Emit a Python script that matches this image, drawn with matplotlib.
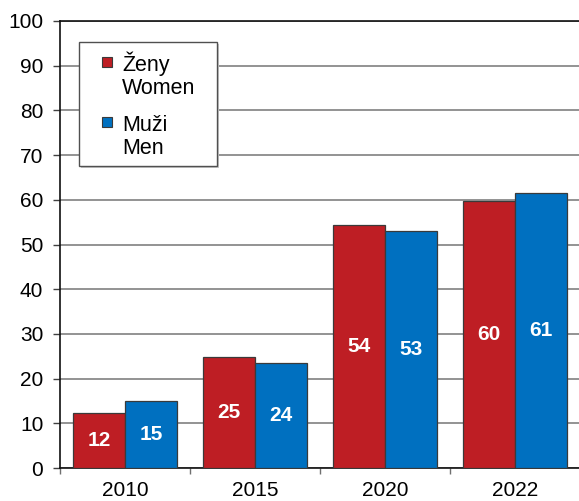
import matplotlib
matplotlib.use("Agg")
import matplotlib.pyplot as plt
from matplotlib.patches import Rectangle
import numpy as np

plt.rcParams['font.family'] = ['Liberation Sans', 'DejaVu Sans']

years = ["2010", "2015", "2020", "2022"]
women = [12.2, 24.8, 54.4, 59.8]
men = [14.9, 23.5, 53.1, 61.5]
women_labels = ["12", "25", "54", "60"]
men_labels = ["15", "24", "53", "61"]
yticks = [0, 10, 20, 30, 40, 50, 60, 70, 80, 90, 100]
legend_lines = [("Ženy", "Women"), ("Muži", "Men")]

W, H = 579, 501
fig = plt.figure(figsize=(W / 100, H / 100), dpi=100)
ax = fig.add_axes([60 / W, (H - 468) / H, 520 / W, 447 / H])

red = "#BE1E24"
blue = "#0070C0"
edge = "#3a3a3a"
x = np.arange(len(years))
bw = 0.4
b1 = ax.bar(x - bw / 2, women, bw, color=red, edgecolor=edge, linewidth=0.9, zorder=3)
b2 = ax.bar(x + bw / 2, men, bw, color=blue, edgecolor=edge, linewidth=0.9, zorder=3)

for bars, labs in ((b1, women_labels), (b2, men_labels)):
    for r, t in zip(bars, labs):
        ax.text(r.get_x() + r.get_width() / 2, r.get_height() / 2, t,
                ha="center", va="center", color="white", fontsize=15,
                fontweight="bold", zorder=4)

ax.set_xlim(-0.5, len(years) - 0.5)
ax.set_ylim(0, 100)
ax.set_yticks(yticks)
ax.set_yticklabels([str(v) for v in yticks], fontsize=15)
ax.set_xticks(x)
ax.set_xticklabels(years, fontsize=15)
ax.set_xticks(np.arange(len(years) + 1) - 0.5, minor=True)
ax.tick_params(axis="x", which="major", length=0, pad=9.5)
ax.tick_params(axis="x", which="minor", length=4, color="#707070", width=1)
ax.tick_params(axis="y", which="major", length=5, color="#404040", width=1, pad=7)

ax.grid(axis="y", color="#808080", linewidth=1.2, zorder=0)
for s in ["left", "bottom", "top"]:
    ax.spines[s].set_color("#111111")
    ax.spines[s].set_linewidth(1.2)
ax.spines["right"].set_visible(False)

# manual legend (pixel layout, top-left origin)
def fx(px):
    return px / W

def fy(py):
    return 1 - py / H

fig.patches.append(Rectangle((fx(81), fy(168)), (217 - 79) / W, (166 - 42) / H,
                             transform=fig.transFigure, facecolor="#c8c8c8",
                             edgecolor="none", zorder=5))
fig.patches.append(Rectangle((fx(79), fy(166)), (217 - 79) / W, (166 - 42) / H,
                             transform=fig.transFigure, facecolor="white",
                             edgecolor="#505050", linewidth=1.0, zorder=6))
sq_tops = [57, 117]
baselines = [(71, 94), (131, 154)]
for col, top, (l1, l2), (bl1, bl2) in zip([red, blue], sq_tops, legend_lines, baselines):
    fig.patches.append(Rectangle((fx(102), fy(top + 10)), 10 / W, 10 / H,
                                 transform=fig.transFigure, facecolor=col,
                                 edgecolor=edge, linewidth=0.8, zorder=7))
    fig.text(fx(122), fy(bl1), l1, fontsize=15.5, va="baseline", ha="left", zorder=8)
    fig.text(fx(122), fy(bl2), l2, fontsize=15.5, va="baseline", ha="left", zorder=8)

fig.savefig("out.png", dpi=100)
